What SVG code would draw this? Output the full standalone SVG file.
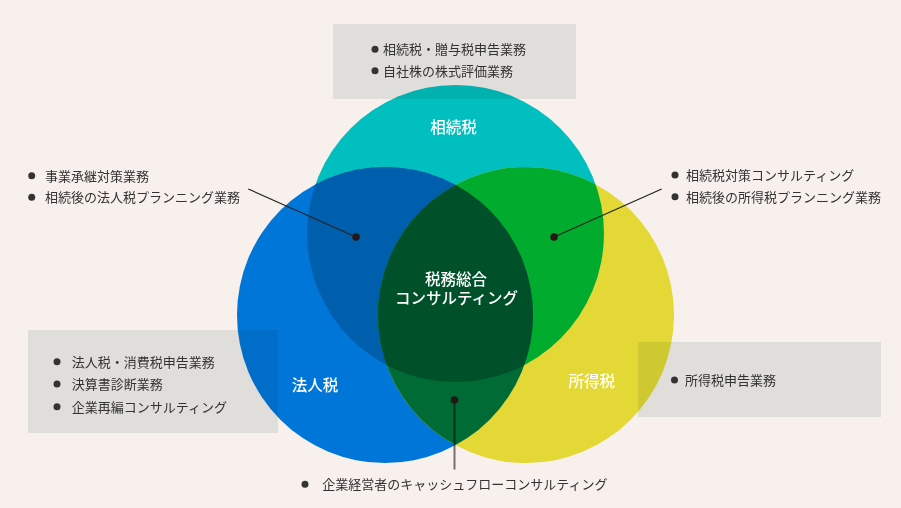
<svg xmlns="http://www.w3.org/2000/svg" width="901" height="508" viewBox="0 0 901 508">
<style>
  .t { font-family: "Noto Sans CJK JP", "Noto Sans", sans-serif; font-size: 13px; fill: #333333; }
  .lbl { font-family: "Noto Sans CJK JP", "Noto Sans", sans-serif; font-size: 15.5px; font-weight: 500; fill: #ffffff; text-anchor: middle; }
  .ctr { font-family: "Noto Sans CJK JP", "Noto Sans", sans-serif; font-size: 15.5px; font-weight: 500; fill: #ffffff; text-anchor: middle; }
  .box { fill: #e8ecec; mix-blend-mode: multiply; }
  .bul { fill: #333333; }
  .ln { stroke: #222222; stroke-width: 1.2; fill: none; }
  .dot { fill: #231815; }
</style>
<defs>
  <clipPath id="cT"><circle cx="455.5" cy="233.5" r="148.5"/></clipPath>
  <clipPath id="cL"><circle cx="385" cy="315" r="148"/></clipPath>
  <clipPath id="cR"><circle cx="526" cy="315" r="148"/></clipPath>
</defs>
<rect width="901" height="508" fill="#f7f0ec"/>

<g id="circles">
  <circle id="circle-souzoku" cx="455.5" cy="233.5" r="148.5" fill="#00bfbe"/>
  <circle id="circle-houjin" cx="385" cy="315" r="148" fill="#0077d8"/>
  <circle id="circle-shotoku" cx="526" cy="315" r="148" fill="#e3d835"/>
  <g clip-path="url(#cT)">
    <circle cx="385" cy="315" r="148" fill="#005fad"/>
    <circle cx="526" cy="315" r="148" fill="#00ab2d"/>
  </g>
  <g clip-path="url(#cL)">
    <circle cx="526" cy="315" r="148" fill="#006b35"/>
  </g>
  <g clip-path="url(#cL)">
    <g clip-path="url(#cR)">
      <circle cx="455.5" cy="233.5" r="148.5" fill="#005129"/>
    </g>
  </g>
</g>

<g id="box-souzoku">
  <rect class="box" x="333" y="24" width="243" height="75"/>
  <circle class="bul" cx="375" cy="49.3" r="3.5"/>
  <text class="t" x="383" y="54.3">相続税・贈与税申告業務</text>
  <circle class="bul" cx="375" cy="70.7" r="3.5"/>
  <text class="t" x="383" y="75.7">自社株の株式評価業務</text>
</g>

<g id="box-houjin">
  <rect class="box" x="28" y="330" width="250" height="103"/>
  <circle class="bul" cx="57" cy="361.7" r="3.5"/>
  <text class="t" x="71.7" y="366.7">法人税・消費税申告業務</text>
  <circle class="bul" cx="57" cy="384" r="3.5"/>
  <text class="t" x="71.7" y="389">決算書診断業務</text>
  <circle class="bul" cx="57" cy="406.7" r="3.5"/>
  <text class="t" x="71.7" y="411.7">企業再編コンサルティング</text>
</g>

<g id="box-shotoku">
  <rect class="box" x="638" y="342" width="243" height="75"/>
  <circle class="bul" cx="674.5" cy="380" r="3.5"/>
  <text class="t" x="685" y="385">所得税申告業務</text>
</g>

<g id="list-left">
  <circle class="bul" cx="31.7" cy="175.7" r="3.5"/>
  <text class="t" x="45" y="180.7">事業承継対策業務</text>
  <circle class="bul" cx="31.7" cy="197.3" r="3.5"/>
  <text class="t" x="45" y="202.3">相続後の法人税プランニング業務</text>
</g>

<g id="list-right">
  <circle class="bul" cx="675" cy="175" r="3.5"/>
  <text class="t" x="686" y="180">相続税対策コンサルティング</text>
  <circle class="bul" cx="675" cy="196.7" r="3.5"/>
  <text class="t" x="686" y="201.7">相続後の所得税プランニング業務</text>
</g>

<g id="list-bottom">
  <circle class="bul" cx="305" cy="484.3" r="3.5"/>
  <text class="t" x="322.3" y="489.3">企業経営者のキャッシュフローコンサルティング</text>
</g>

<g id="labels">
  <text class="lbl" x="453.5" y="133">相続税</text>
  <text class="lbl" x="315" y="390.7">法人税</text>
  <text class="lbl" x="591.7" y="386.7">所得税</text>
</g>

<g id="center">
  <text class="ctr" x="456" y="285"><tspan x="456" y="285">税務総合</tspan><tspan x="456.5" y="304">コンサルティング</tspan></text>
</g>

<g id="connectors">
  <line class="ln" x1="248.3" y1="189" x2="356" y2="237"/>
  <line class="ln" x1="661.7" y1="189" x2="554" y2="237"/>
  <line x1="454.5" y1="400" x2="454.5" y2="469.5" stroke="#7a7774" stroke-width="2" style="mix-blend-mode: multiply"/>
  <circle class="dot" cx="356" cy="237" r="3.8"/>
  <circle class="dot" cx="554" cy="237" r="3.8"/>
  <circle class="dot" cx="454.5" cy="400" r="3.8"/>
</g>
</svg>
